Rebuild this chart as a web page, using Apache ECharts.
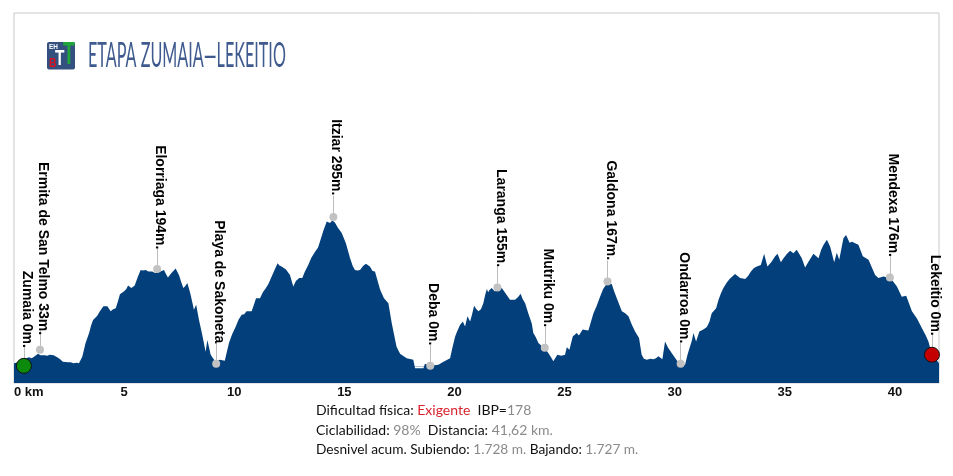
<!DOCTYPE html>
<html><head><meta charset="utf-8">
<style>html,body{margin:0;padding:0;background:#fff}#c{width:953px;height:476px}</style>
<script src="https://cdn.jsdelivr.net/npm/echarts@6/dist/echarts.min.js"></script>
</head><body><div id="c"></div>
<script>
const profileKm=[0,.3,.5,.68,.8,.91,1.0,1.09,1.2,1.29,1.4,1.51,1.62,1.71,1.8,1.89,2.0,2.12,2.22,2.3,2.45,2.57,2.7,2.85,2.95,
3.1,3.25,3.41,3.5,3.59,3.68,3.78,3.9,4.06,4.15,4.24,4.39,4.5,4.62,4.72,4.81,4.9,5,5.1,5.18,5.33,5.48,
5.62,5.75,5.85,5.98,6.1,6.28,6.4,6.51,6.65,6.81,6.9,6.99,7.15,7.34,7.42,7.49,7.6,7.69,7.78,7.87,7.95,8.02,8.1,8.17,8.27,8.4,8.55,8.7,8.78,8.93,9.05,9.16,9.35,9.57,
9.76,9.9,10.07,10.2,10.34,10.45,10.56,10.79,10.9,10.99,11.17,11.3,11.44,11.55,11.7,11.85,11.97,12.05,12.15,12.35,12.53,12.68,12.8,12.95,13.09,13.2,13.36,13.5,13.67,13.8,13.89,14.05,14.2,14.35,14.45,14.57,
14.7,14.88,15.07,15.26,15.38,15.48,15.6,15.71,15.85,15.98,16.16,16.28,16.39,16.5,16.62,16.8,17,17.15,17.37,17.53,17.83,18.13,18.21,18.59,18.66,18.89,19.27,19.5,19.8,
19.9,20.03,20.12,20.25,20.33,20.38,20.48,20.59,20.71,20.8,20.89,21.0,21.09,21.2,21.31,21.39,21.47,21.53,21.59,21.69,21.82,21.95,22.15,22.3,22.52,22.75,22.88,23,23.1,23.21,23.35,23.51,23.58,23.7,23.81,23.95,24.08,24.22,24.37,24.49,
24.67,24.85,25.02,25.1,25.22,25.37,25.45,25.55,25.65,25.73,25.82,25.93,26.08,26.2,26.31,26.45,26.61,26.75,26.91,27.14,27.25,27.37,27.6,27.75,27.9,28.05,28.2,28.38,28.5,28.6,28.73,28.9,29.03,29.15,29.26,29.44,29.56,29.7,29.87,30.09,30.28,30.47,30.58,30.67,
30.78,30.85,30.97,31.12,31.3,31.46,31.58,31.68,31.88,31.99,32.1,32.21,32.35,32.49,32.74,32.97,33.2,33.33,33.46,33.6,33.73,33.91,34.06,34.21,34.38,34.56,34.67,34.82,34.94,35.1,35.24,35.39,35.54,35.65,35.77,35.92,36.1,36.3,36.53,36.65,36.76,36.91,37.06,37.24,37.36,37.47,37.66,37.78,37.94,38.05,38.19,38.34,38.54,38.8,39.1,39.25,39.48,39.75,39.9,40.09,40.31,40.51,40.77,41,41.22,41.4,41.52,41.68,41.85,42];
const profileM=[5,8,14,17,15,18,20,24,21,20,21,20,22,23,21,18,16,12,8,5,7,7,5,6,5,
18,45,65,80,91,94,99,108,118,120,118,108,112,114,128,142,144,148,152,159,154,159,
176,190,189,190,187,187,184,185,187,190,182,175,184,193,190,180,165,154,158,164,152,141,125,111,121,91,61,28,51,22,14,8,12,10,
45,62,78,92,101,102,108,108,122,134,134,146,154,162,177,192,203,199,197,191,180,157,168,174,174,186,200,214,226,234,246,268,286,283,288,284,
274,263,243,213,198,190,189,190,198,202,197,188,187,170,151,134,124,85,38,24,15,12,-5,-5,4,0,2,8,15,
35,58,68,81,78,88,78,98,88,102,119,112,108,112,124,140,152,146,150,154,148,149,154,145,131,131,136,143,132,124,104,84,65,56,45,40,35,28,18,9,
22,20,22,37,32,58,56,65,60,61,72,71,70,88,104,118,137,152,162,162,148,134,108,104,98,82,68,55,22,14,12,14,13,15,19,13,48,36,25,11,2,2,22,35,
50,65,48,68,72,77,88,104,114,131,144,154,164,172,182,174,172,178,187,194,197,200,222,197,205,217,222,205,213,222,228,223,230,222,213,195,208,222,213,230,240,250,236,205,224,210,253,259,244,246,243,240,217,210,180,174,177,174,168,157,137,139,108,94,75,60,48,22,14,5];
const placeNames=["Zumaia 0m.","Ermita de San Telmo 33m.","Elorriaga 194m.","Playa de Sakoneta","Itziar 295m.","Deba 0m.","Laranga 155m.","Mutriku 0m.","Galdona 167m.","Ondarroa 0m.","Mendexa 176m.","Lekeitio 0m."];
const placeKm=[.45,1.18,6.5,9.18,14.5,18.9,21.95,24.1,26.95,30.27,39.77,41.68];
const placeM=[0,32,192,4,295,0,155,36,167,4,175,22];
const labelGap=[13,14,19,20,21,20,20,20,21,20,20,14];
const xTicks=[0,5,10,15,20,25,30,35,40];
const kmMax=42, mMin=-34, mMax=699;
const titleText="ETAPA ZUMAIA—LEKEITIO";
const labelFont='"Liberation Sans"';
const ink='#111',grey='#8a8a8a';
const big={0:'#0b8a0b',11:'#c40000'};
const fs=14, fs3=13.7;
const chart=echarts.init(document.getElementById('c'),null,{renderer:'canvas'});
chart.setOption({
 animation:false,
 grid:{left:14,right:14,top:13,bottom:93,show:true,borderColor:'#c9c9c9',borderWidth:1,backgroundColor:'#fff'},
 xAxis:{type:'value',min:0,max:kmMax,interval:5,
  axisLine:{show:true,lineStyle:{color:'#b5c7dc',width:1}},axisTick:{show:false},splitLine:{show:false},
  axisLabel:{color:'#111',fontFamily:labelFont,fontSize:13,fontWeight:'bold',margin:3,alignMinLabel:'left',
   customValues:xTicks,formatter:v=>v===0?'0 km':String(v)}},
 yAxis:{type:'value',min:mMin,max:mMax,show:false,splitLine:{show:false}},
 series:[
  {type:'line',data:profileKm.map((k,i)=>[k,profileM[i]]),showSymbol:false,silent:true,
   lineStyle:{width:0,color:'#03407b'},areaStyle:{color:'#03407b',opacity:1,origin:'start'},z:2},
  {type:'scatter',z:5,silent:true,
   data:placeKm.map((k,i)=>({value:[k,placeM[i]],name:placeNames[i],
     symbolSize:big[i]?15:8,
     itemStyle:big[i]?{color:big[i],borderColor:'#111',borderWidth:1,opacity:1}:{color:'#c2c2c2',opacity:1},
     label:{distance:big[i]?labelGap[i]:labelGap[i]-.5}})),
   label:{show:true,position:'top',rotate:-90,align:'right',verticalAlign:'middle',offset:[3,-3],
     formatter:p=>p.name,color:'#000',fontFamily:labelFont,fontSize:14,fontWeight:'bold'},
   markLine:{silent:true,symbol:'none',animation:false,label:{show:false},lineStyle:{color:'#bdbdbd',width:1,type:'solid'},
     data:placeKm.map((k,i)=>[{coord:[k,placeM[i]]},{coord:[k,placeM[i]+42]}])}}
 ],
 graphic:[
  {type:'rect',shape:{x:47,y:42,width:28,height:27.5,r:2},style:{fill:'#33507f'},z:10},
  {type:'text',x:49,y:43,scaleX:.8,style:{text:'EH',fill:'#fff',font:'bold 8px "Liberation Sans"'},z:11},
  {type:'text',x:49,y:57,scaleX:.8,style:{text:'B',fill:'#d8121f',font:'bold 13px "Liberation Sans"'},z:11},
  {type:'text',x:55,y:48,scaleX:.7,style:{text:'T',fill:'#fff',font:'bold 22px "Liberation Sans"'},z:11},
  {type:'text',x:63,y:39.5,scaleX:.6,style:{text:'T',fill:'#1fa53a',font:'bold 32px "Liberation Sans"'},z:12},
  {type:'text',x:88,y:38,scaleX:.462,style:{text:titleText,fill:'#3f5a8f',font:'35px Lato'},z:11},
  {type:'text',x:316,y:403,style:{fontFamily:'Lato',fontSize:fs,fill:ink,
    rich:{r:{fill:'#d9232e',fontFamily:'Lato',fontSize:fs},g:{fill:grey,fontFamily:'Lato',fontSize:fs},k:{fill:ink,fontFamily:'Lato',fontSize:fs}},
    text:'{k|Dificultad física: }{r|Exigente}{k|  IBP=}{g|178}'},z:11},
  {type:'text',x:316,y:423,style:{fontFamily:'Lato',fontSize:fs,fill:ink,
    rich:{g:{fill:grey,fontFamily:'Lato',fontSize:fs},k:{fill:ink,fontFamily:'Lato',fontSize:fs}},
    text:'{k|Ciclabilidad: }{g|98%}{k|  Distancia: }{g|41,62 km.}'},z:11},
  {type:'text',x:316,y:443,style:{fontFamily:'Lato',fontSize:fs3,fill:ink,
    rich:{g:{fill:grey,fontFamily:'Lato',fontSize:fs3},k:{fill:ink,fontFamily:'Lato',fontSize:fs3}},
    text:'{k|Desnivel acum. Subiendo: }{g|1.728 m.}{k| Bajando: }{g|1.727 m.}'},z:11}
 ]
});
</script></body></html>
